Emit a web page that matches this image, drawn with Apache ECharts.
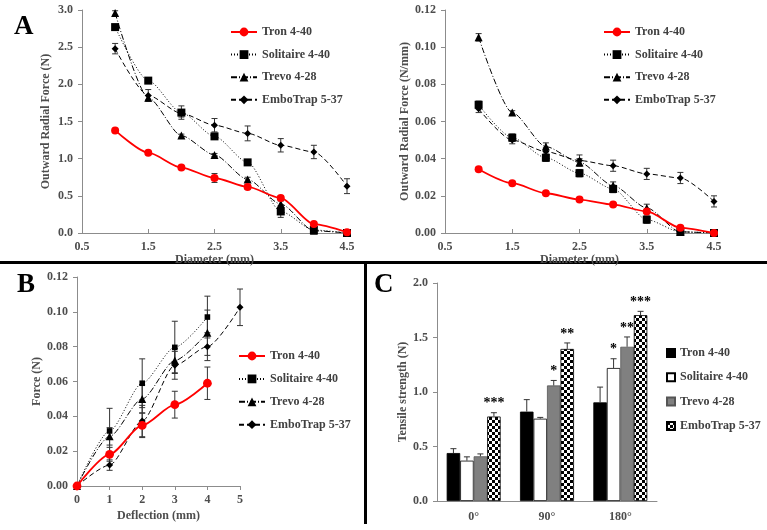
<!DOCTYPE html>
<html lang="en">
<head>
<meta charset="UTF-8">
<title>Stent retriever mechanics</title>
<style>
    html, body { margin: 0; padding: 0; background: #fff; }
    #chart { width: 767px; height: 530px; }
</style>
</head>
<body>
<div id="chart"></div>
<script src="https://cdn.jsdelivr.net/npm/echarts@6/dist/echarts.min.js"></script>
<script>
    /* devices */
    var deviceNames = ['Tron 4-40', 'Solitaire 4-40', 'Trevo 4-28', 'EmboTrap 5-37'];

    /* A: outward radial force vs diameter */
    var diameters = [1.0, 1.5, 2.0, 2.5, 3.0, 3.5, 4.0, 4.5];
    var forceTron = [1.38, 1.08, 0.88, 0.74, 0.62, 0.47, 0.12, 0.01];
    var forceSolitaire = [2.77, 2.05, 1.62, 1.30, 0.95, 0.29, 0.04, 0.0];
    var forceTrevo = [2.96, 1.82, 1.31, 1.05, 0.72, 0.39, 0.03, 0.0];
    var forceEmbo = [2.48, 1.85, 1.61, 1.45, 1.34, 1.18, 1.09, 0.63];
    var forceTronErr = [0.02, 0.02, 0.02, 0.06, 0.03, 0.03, 0.02, 0.01];
    var forceSolitaireErr = [0.03, 0.03, 0.09, 0.03, 0.03, 0.08, 0.01, 0];
    var forceTrevoErr = [0.03, 0.03, 0.02, 0.02, 0.03, 0.04, 0.01, 0];
    var forceEmboErr = [0.07, 0.08, 0.05, 0.09, 0.10, 0.09, 0.09, 0.10];

    /* A: outward radial force per mm */
    var perMmTron = [0.0343, 0.0268, 0.0214, 0.0180, 0.0153, 0.0116, 0.0028, 0.0];
    var perMmSolitaire = [0.0690, 0.0513, 0.0405, 0.0322, 0.0237, 0.0072, 0.0006, 0.0];
    var perMmTrevo = [0.1053, 0.0648, 0.0465, 0.0380, 0.0255, 0.0135, 0.0006, 0.0];
    var perMmEmbo = [0.0668, 0.0500, 0.0438, 0.0390, 0.0362, 0.0318, 0.0296, 0.0170];
    var perMmTronErr = [0.001, 0.001, 0.001, 0.001, 0.001, 0.001, 0.001, 0];
    var perMmSolitaireErr = [0.002, 0.002, 0.002, 0.002, 0.002, 0.002, 0.001, 0];
    var perMmTrevoErr = [0.002, 0.001, 0.002, 0.002, 0.002, 0.002, 0, 0];
    var perMmEmboErr = [0.002, 0.002, 0.002, 0.003, 0.003, 0.003, 0.003, 0.003];

    /* B: force vs deflection */
    var deflection = [0, 1, 2, 3, 4, 5];
    var bendTron = [0, 0.0182, 0.0348, 0.0467, 0.0590];
    var bendSolitaire = [0, 0.0316, 0.0590, 0.0796, 0.0970];
    var bendTrevo = [0, 0.0285, 0.0500, 0.0720, 0.0880];
    var bendEmbo = [0, 0.0120, 0.0373, 0.0693, 0.0800, 0.1026];
    var bendTronErr = [0, 0.004, 0.007, 0.0077, 0.0093];
    var bendSolitaireErr = [0, 0.013, 0.014, 0.015, 0.012];
    var bendTrevoErr = [0, 0.005, 0.008, 0.007, 0.013];
    var bendEmboErr = [0, 0.003, 0.009, 0.008, 0.008, 0.0105];

    /* C: tensile strength */
    var angles = ['0°', '90°', '180°'];
    var tensileTron = [0.44, 0.82, 0.905];
    var tensileSolitaire = [0.37, 0.755, 1.22];
    var tensileTrevo = [0.41, 1.06, 1.415];
    var tensileEmbo = [0.775, 1.395, 1.705];
    var tensileTronErr = [0.04, 0.11, 0.14];
    var tensileSolitaireErr = [0.035, 0.012, 0.085];
    var tensileTrevoErr = [0.022, 0.046, 0.09];
    var tensileEmboErr = [0.035, 0.055, 0.035];
    var starsTron = ['', '', ''];
    var starsSolitaire = ['', '', '*'];
    var starsTrevo = ['', '*', '**'];
    var starsEmbo = ['***', '**', '***'];

    var chart = echarts.init(document.getElementById('chart'));
    var serif = 'Liberation Serif';
    var grey = '#4d4d4d';
    var barFrac = 0.184;

    /* checker pattern for EmboTrap bars */
    var checker = document.createElement('canvas');
    checker.width = 6;
    checker.height = 6;
    var cx = checker.getContext('2d');
    cx.fillStyle = '#fff';
    cx.fillRect(0, 0, 6, 6);
    cx.fillStyle = '#000';
    cx.fillRect(0, 0, 3, 3);
    cx.fillRect(3, 3, 3, 3);

    var lineLooks = [
        {color: '#ff0000', symbol: 'circle', size: 8, width: 1.8, type: 'solid'},
        {color: '#000', symbol: 'rect', size: 8, width: 1, type: [1, 2]},
        {color: '#000', symbol: 'triangle', size: 8, width: 1, type: [6, 2, 1, 2]},
        {color: '#000', symbol: 'diamond', size: 7, width: 1, type: [5, 3]}
    ];

    function pairs(xs, ys, es) {
        return ys.map(function (y, i) { return es ? [xs[i], y, es[i]] : [xs[i], y]; });
    }

    function errRender(params, api) {
        var e = api.value(2);
        if (!e) return;
        var x = api.value(0), y = api.value(1);
        var hi = api.coord([x, y + e]), lo = api.coord([x, y - e]);
        var st = {stroke: '#333', lineWidth: 1};
        return {
            type: 'group', children: [
                {type: 'line', shape: {x1: hi[0], y1: hi[1], x2: lo[0], y2: lo[1]}, style: st},
                {type: 'line', shape: {x1: hi[0] - 3, y1: hi[1], x2: hi[0] + 3, y2: hi[1]}, style: st},
                {type: 'line', shape: {x1: lo[0] - 3, y1: lo[1], x2: lo[0] + 3, y2: lo[1]}, style: st}
            ]
        };
    }

    function lineSet(prefix, idx, xs, ysList, errList, scale) {
        var out = [];
        ysList.forEach(function (ys, k) {
            var lk = lineLooks[k];
            out.push({
                type: 'custom', xAxisIndex: idx, yAxisIndex: idx, silent: true, z: 1,
                encode: {x: 0, y: 1},
                renderItem: errRender, data: pairs(xs, ys, errList[k])
            });
            out.push({
                name: prefix + deviceNames[k], type: 'line', xAxisIndex: idx, yAxisIndex: idx,
                data: pairs(xs, ys), smooth: 0.25, smoothMonotone: 'x',
                symbol: lk.symbol, symbolSize: lk.size * (scale ? scale[k] : 1),
                itemStyle: {color: lk.color},
                lineStyle: {color: lk.color, width: lk.width, type: lk.type},
                z: k === 0 ? 4 : 3
            });
        });
        return out;
    }

    function barErr(k, stars) {
        return function (params, api) {
            var i = api.value(0), v = api.value(1), e = api.value(2);
            var band = api.size([1, 0])[0];
            var top = api.coord([i, v]), hi = api.coord([i, v + e]);
            var x = top[0] + (k - 1.5) * band * barFrac;
            var st = {stroke: '#333', lineWidth: 1};
            return {
                type: 'group', children: [
                    {type: 'line', shape: {x1: x, y1: top[1], x2: x, y2: hi[1]}, style: st},
                    {type: 'line', shape: {x1: x - 3, y1: hi[1], x2: x + 3, y2: hi[1]}, style: st},
                    {type: 'text', style: {
                        text: stars[params.dataIndex], x: x, y: hi[1] - 2,
                        align: 'center', verticalAlign: 'bottom',
                        font: 'bold 14px "Liberation Serif"', fill: '#000'
                    }}
                ]
            };
        };
    }

    function labelStyle(digits) {
        return {
            color: grey, fontFamily: serif, fontWeight: 'bold', fontSize: 12,
            formatter: function (v) { return digits == null ? v : Number(v).toFixed(digits); }
        };
    }
    var axisLine = {show: true, lineStyle: {color: '#8c8c8c', width: 1}};
    var nameStyle = {color: grey, fontFamily: serif, fontWeight: 'bold', fontSize: 12};

    function valueX(idx, min, max, step, digits, name, gap, tickIn) {
        return {
            type: 'value', gridIndex: idx, min: min, max: max, interval: step,
            axisLine: axisLine, splitLine: {show: false},
            axisTick: {show: true, inside: !!tickIn, length: 4, lineStyle: {color: '#8c8c8c'}},
            axisLabel: Object.assign(labelStyle(digits), {margin: 8}),
            name: name, nameLocation: 'middle', nameGap: gap, nameTextStyle: nameStyle
        };
    }
    function valueY(idx, max, step, digits, name, gap) {
        return {
            type: 'value', gridIndex: idx, min: 0, max: max, interval: step,
            axisLine: axisLine, splitLine: {show: false},
            axisTick: {show: true, length: 4, lineStyle: {color: '#8c8c8c'}},
            axisLabel: Object.assign(labelStyle(digits), {margin: 9}),
            name: name, nameLocation: 'middle', nameGap: gap, nameTextStyle: nameStyle
        };
    }

    function legendFor(prefix, left, top, gap) {
        return {
            data: deviceNames.map(function (n) { return prefix + n; }),
            formatter: function (n) { return n.slice(prefix.length); },
            orient: 'vertical', left: left, top: top, itemGap: gap, padding: 0,
            itemWidth: 26, itemHeight: 11, selectedMode: false,
            textStyle: {fontFamily: serif, fontWeight: 'bold', fontSize: 12, color: '#404040'}
        };
    }

    var series = []
        .concat(lineSet('', 0, diameters,
            [forceTron, forceSolitaire, forceTrevo, forceEmbo],
            [forceTronErr, forceSolitaireErr, forceTrevoErr, forceEmboErr]))
        .concat(lineSet('R:', 1, diameters,
            [perMmTron, perMmSolitaire, perMmTrevo, perMmEmbo],
            [perMmTronErr, perMmSolitaireErr, perMmTrevoErr, perMmEmboErr]))
        .concat(lineSet('B:', 2, deflection,
            [bendTron, bendSolitaire, bendTrevo, bendEmbo],
            [bendTronErr, bendSolitaireErr, bendTrevoErr, bendEmboErr], [1.1, 0.7, 1, 1]));

    var barVals = [tensileTron, tensileSolitaire, tensileTrevo, tensileEmbo];
    var barErrs = [tensileTronErr, tensileSolitaireErr, tensileTrevoErr, tensileEmboErr];
    var barStars = [starsTron, starsSolitaire, starsTrevo, starsEmbo];
    var barFills = ['#000', '#fff', '#808080', {image: checker, repeat: 'repeat'}];
    barVals.forEach(function (vals, k) {
        series.push({
            name: 'C:' + deviceNames[k], type: 'bar', xAxisIndex: 3, yAxisIndex: 3,
            data: vals, barWidth: (barFrac * 100) + '%', barGap: '0%',
            itemStyle: {color: barFills[k], borderColor: k === 2 ? '#555' : '#000', borderWidth: 0.8}
        });
    });
    barVals.forEach(function (vals, k) {
        series.push({
            type: 'custom', xAxisIndex: 3, yAxisIndex: 3, silent: true, z: 5,
            encode: {x: 0, y: 1},
            renderItem: barErr(k, barStars[k]),
            data: vals.map(function (v, i) { return [i, v, barErrs[k][i]]; })
        });
    });

    var option = {
        backgroundColor: '#fff',
        animation: false,
        grid: [
            {left: 82, top: 10, width: 265, height: 223},
            {left: 445, top: 10, width: 269, height: 223},
            {left: 77, top: 277, width: 163, height: 209},
            {left: 437, top: 283, width: 220, height: 218}
        ],
        xAxis: [
            valueX(0, 0.5, 4.5, 1, 1, 'Diameter (mm)', 15, true),
            valueX(1, 0.5, 4.5, 1, 1, 'Diameter (mm)', 15, true),
            valueX(2, 0, 5, 1, null, 'Deflection (mm)', 24, false),
            {
                type: 'category', gridIndex: 3, data: angles,
                axisLine: axisLine, axisTick: {show: false},
                axisLabel: Object.assign(labelStyle(null), {margin: 10})
            }
        ],
        yAxis: [
            valueY(0, 3, 0.5, 1, 'Outward Radial Force (N)', 30),
            valueY(1, 0.12, 0.02, 2, 'Outward Radial Force (N/mm)', 33),
            valueY(2, 0.12, 0.02, 2, 'Force (N)', 32),
            valueY(3, 2, 0.5, 1, 'Tensile strength (N)', 27)
        ],
        legend: [
            legendFor('', 230, 26, 10.6),
            legendFor('R:', 603, 26, 10.6),
            legendFor('B:', 238, 350, 10.9),
            Object.assign(legendFor('C:', 666, 347, 12.3), {itemWidth: 8, itemHeight: 8, icon: 'rect'})
        ],
        graphic: [
            {type: 'rect', shape: {x: 0, y: 261, width: 767, height: 3}, style: {fill: '#000'}},
            {type: 'rect', shape: {x: 364, y: 262, width: 3, height: 262}, style: {fill: '#000'}},
            {type: 'text', left: 14, top: 14, style: {text: 'A', font: 'bold 27px "Liberation Serif"', fill: '#000'}},
            {type: 'text', left: 17, top: 272, style: {text: 'B', font: 'bold 27px "Liberation Serif"', fill: '#000'}},
            {type: 'text', left: 374, top: 272, style: {text: 'C', font: 'bold 27px "Liberation Serif"', fill: '#000'}}
        ],
        series: series
    };
    chart.setOption(option);
</script>
</body>
</html>
